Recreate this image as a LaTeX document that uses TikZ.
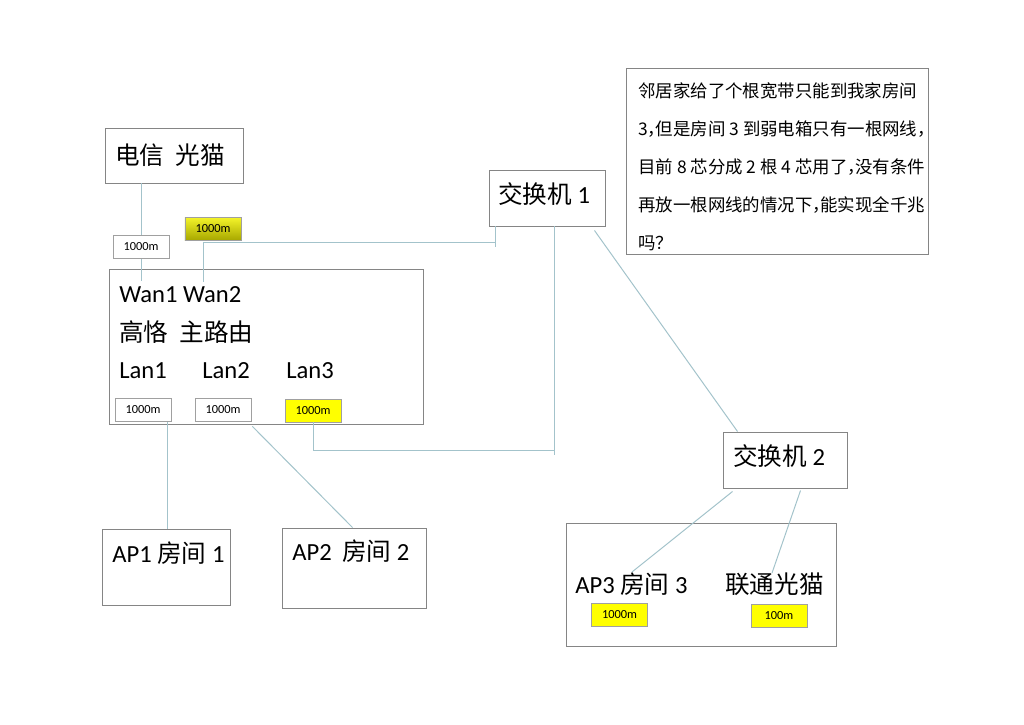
\documentclass[tikz,border=0pt]{standalone}
\usepackage{fontspec}
\setmainfont{Carlito}
\newfontfamily\cjk{Noto Sans CJK SC}
\usetikzlibrary{positioning,calc,fit}
\definecolor{nwline}{HTML}{A3C3CB}
\definecolor{nwframe}{HTML}{858585}
\definecolor{nwtag}{HTML}{A0A0A0}
\definecolor{nwyellow}{HTML}{FFFF00}
\definecolor{nwolivetop}{HTML}{F5F52A}
\definecolor{nwolivebot}{HTML}{A8A800}
% narrow full-width comma
\newcommand{\zc}{\makebox[0.45em][l]{，}}

\begin{document}
\begin{tikzpicture}[x=0.025cm,y=-0.025cm,
    box/.style={draw=nwframe,line width=0.7pt,inner sep=0pt},
    tag/.style={draw=nwtag,line width=0.5pt,inner sep=0pt,minimum width=1.4cm,
      minimum height=0.575cm,font=\fontsize{8.8}{10}\selectfont},
    hot/.style={tag,fill=nwyellow},
    olive/.style={tag,top color=nwolivetop,bottom color=nwolivebot},
    big/.style={anchor=base west,inner sep=0pt,font=\fontsize{17.5}{21}\selectfont},
    note/.style={anchor=base west,inner sep=0pt,font=\cjk\fontsize{12.4}{15}\selectfont},
    wire/.style={nwline,line width=0.7pt}]
  \useasboundingbox[fill=white] (0,0) rectangle (1024,724);

  % modem and router
  \node[box,fit={(105,128)(243,183)}] (telecom) {};
  \node[big] (telecomtxt) at (115,164) {\cjk 电信\hspace{0.45em}光猫};
  \node[tag] (tagA) at (141,247) {1000m};
  \node[olive] (tagB) at (213,228.5) {1000m};
  \node[box,fit={(109,269)(423,424)}] (router) {};
  \node[big] (wantxt) at (119,302) {Wan1 Wan2};
  \node[big] (routertxt) at (119,341) {\cjk 高恪\hspace{0.45em}主路由};
  \node[big] (lan1) at (119,378) {Lan1};
  \node[big] (lan2) at (202,378) {Lan2};
  \node[big] (lan3) at (286,378) {Lan3};
  \node[tag] (tagL1) at (143,410) {1000m};
  \node[tag] (tagL2) at (223,409.5) {1000m};
  \node[hot] (tagL3) at (313,410.5) {1000m};

  % switches
  \node[box,fit={(489,170)(605,226)}] (sw1) {};
  \node[big] (sw1txt) at (498,203) {{\cjk 交换机} 1};
  \node[box,fit={(723,432)(847,488)}] (sw2) {};
  \node[big] (sw2txt) at (733,465) {{\cjk 交换机} 2};

  % question
  \node[box,fit={(626,68)(928,254)}] (notebox) {};
  \foreach \ln [count=\k from 0] in {邻居家给了个根宽带只能到我家房间,
      3\zc 但是房间 3 到弱电箱只有一根网线\zc,
      目前 8 芯分成 2 根 4 芯用了\zc 没有条件,
      再放一根网线的情况下\zc 能实现全千兆,
      吗？}
    \node[note] (note\k) at (638,97+38*\k) {\ln};

  % rooms
  \node[box,fit={(102,529)(230,605)}] (ap1) {};
  \node[big] (ap1txt) at (112,562) {AP1 {\cjk 房间} 1};
  \node[box,fit={(282,528)(426,608)}] (ap2) {};
  \node[big] (ap2txt) at (292,560) {AP2\hspace{0.2em} {\cjk 房间} 2};
  \node[box,fit={(566,523)(836,646)}] (room3) {};
  \node[big] (ap3txt) at (575,593) {AP3 {\cjk 房间} 3};
  \node[big] (unicomtxt) at (725,593) {\cjk 联通光猫};
  \node[hot] (tagC) at (619.5,615) {1000m};
  \node[hot] (tagD) at (779,615.5) {100m};

  % uplinks
  \draw[wire] (telecom.south -| tagA.north) -- (tagA.north);
  \coordinate (wanA) at (141,281);
  \draw[wire] (tagA.south) -- (wanA);
  \coordinate (wanB) at (203,282);
  \coordinate (sw1tick) at (495,242);
  \draw[wire] (wanB) |- (sw1tick);
  \draw[wire] (sw1.south -| sw1tick) -- ($(sw1tick)+(0,5)$);

  % switch 1 down to lan3 and over to switch 2
  \coordinate (sw1foot) at (554,455);
  \coordinate (lan3bus) at (554,450);
  \draw[wire] (sw1.south -| sw1foot) -- (sw1foot);
  \draw[wire] (tagL3.south) |- (lan3bus);
  \draw[wire] ($(sw1.south east)+(-11,4)$) -- ($(sw2.north west)+(15,0)$);

  % lan1, lan2
  \coordinate (lan1drop) at ($(tagL1.south east)+(-4,0)$);
  \draw[wire] (lan1drop) -- (lan1drop |- ap1.north);
  \draw[wire] ($(tagL2.south east)+(1,5)$) -- ($(ap2.north west)+(71,0)$);

  % switch 2 into room 3
  \coordinate (ap3top) at (632,572);
  \coordinate (unitop) at (772,573);
  \draw[wire] ($(sw2.south west)+(10,3)$) -- (ap3top);
  \draw[wire] ($(sw2.south west)+(78,2)$) -- (unitop);
\end{tikzpicture}
\end{document}
